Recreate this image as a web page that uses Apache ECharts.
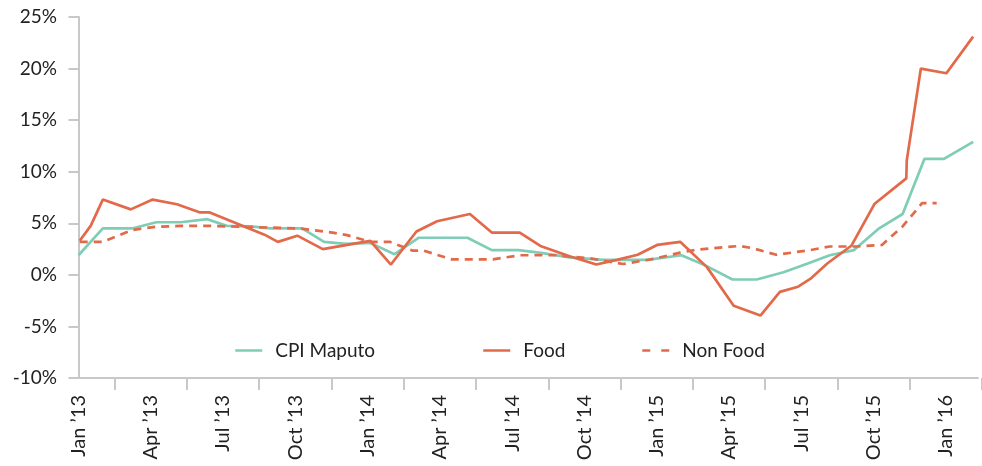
<!DOCTYPE html>
<html>
<head>
<meta charset="utf-8">
<script src="https://cdn.jsdelivr.net/npm/echarts@6/dist/echarts.min.js"></script>
<style>
  html, body { margin: 0; padding: 0; background: #fff; }
  #chart { width: 982px; height: 466px; }
</style>
</head>
<body>
<div id="chart"></div>
<script>
// x positions are months counted from Jan '13 (0 = Jan '13)
const tickLabels = ['Jan \u201913', 'Apr \u201913', 'Jul \u201913', 'Oct \u201913', 'Jan \u201914', 'Apr \u201914',
  'Jul \u201914', 'Oct \u201914', 'Jan \u201915', 'Apr \u201915', 'Jul \u201915', 'Oct \u201915', 'Jan \u201916']

const cpiMonth = [0, 1, 2.2, 3.2, 4.2, 5.3, 6.1, 7.1, 7.9, 9.2, 10.1, 11.0, 12.0, 13.0, 14.0, 16.0, 17.0, 18.1, 19.1,
  20.2, 21.6, 23.4, 24.8, 25.8, 26.9, 27.9, 29.0, 30.0, 30.9, 31.9, 32.9, 33.9, 34.8, 35.6, 36.8]
const cpiValue = [1.9, 4.5, 4.5, 5.1, 5.1, 5.4, 4.75, 4.7, 4.5, 4.5, 3.2, 3.0, 3.1, 2.0, 3.6, 3.6, 2.4, 2.4, 2.1,
  1.7, 1.45, 1.45, 1.9, 0.9, -0.45, -0.45, 0.25, 1.1, 1.9, 2.4, 4.45, 5.9, 11.25, 11.25, 12.9]

const foodMonth = [0.05, 0.5, 1.0, 2.15, 3.05, 4.05, 5.0, 5.4, 7.65, 8.2, 9.0, 10.05, 12.0, 12.85, 13.9, 14.75, 16.1,
  17.0, 18.15, 19.0, 20.2, 21.3, 22.15, 23.0, 23.8, 24.75, 25.85, 26.95, 28.05, 28.85, 29.6, 30.1, 30.8, 31.8,
  32.75, 34.05, 34.07, 34.65, 35.7, 36.8]
const foodValue = [3.3, 4.75, 7.3, 6.35, 7.3, 6.85, 6.05, 6.05, 3.9, 3.2, 3.8, 2.5, 3.3, 1.0, 4.2, 5.2, 5.9,
  4.1, 4.1, 2.8, 1.8, 1.0, 1.45, 1.95, 2.9, 3.2, 0.75, -3.0, -3.95, -1.65, -1.15, -0.4, 1.1, 2.85,
  6.9, 9.35, 11.1, 20.0, 19.55, 23.1]

const nonFoodMonth = [0.05, 1.0, 2.2, 3.15, 4.2, 5.4, 9.1, 10.45, 11.05, 12.0, 12.8, 13.75, 14.2, 15.35, 17.05,
  18.15, 19.65, 21.05, 22.4, 23.65, 24.75, 25.45, 27.2, 27.7, 28.7, 30.1, 30.9, 32.0, 33.05, 33.9, 34.7, 35.3]
const nonFoodValue = [3.2, 3.2, 4.35, 4.65, 4.75, 4.75, 4.5, 4.1, 3.85, 3.2, 3.2, 2.35, 2.35, 1.5, 1.5,
  1.9, 1.9, 1.6, 1.05, 1.55, 2.15, 2.45, 2.8, 2.6, 1.95, 2.4, 2.75, 2.75, 2.9, 4.7, 6.95, 6.95]

const teal = '#7fcdb6'
const red = '#e2694a'
const axisGray = '#c8c8c8'
const font = 'Lato'

// one category per month, used only to place the x labels and ticks
const monthCats = []
for (let i = 0; i < 38; i++) monthCats.push(String(i))

const pairs = (xs, ys) => xs.map((x, i) => [x, ys[i]])

function legendAt(name, left, dash) {
  return {
    data: [name], left: left, top: 336,
    itemWidth: 27, itemHeight: 14,
    itemStyle: {opacity: 0},
    lineStyle: dash ? {type: [8, 11], width: 2.5} : {width: 2.5},
    textStyle: {fontFamily: font, fontSize: 19, color: '#222', padding: [0, 0, 0, 8]}
  }
}

const chart = echarts.init(document.getElementById('chart'))
chart.setOption({
  animation: false,
  textStyle: {fontFamily: font},
  grid: [
    {left: 70, right: 4, top: 17, bottom: 88},
    {left: 66.35, right: -8.15, top: 17, bottom: 88}
  ],
  legend: [
    legendAt('CPI Maputo', 229, false),
    legendAt('Food', 477, false),
    legendAt('Non Food', 636, true)
  ],
  xAxis: [
    {
      type: 'value', gridIndex: 0, min: -0.35, max: 37,
      axisLine: {show: true, onZero: false, lineStyle: {color: axisGray, width: 2}},
      axisTick: {show: false}, axisLabel: {show: false}, splitLine: {show: false}
    },
    {
      type: 'category', gridIndex: 1, data: monthCats, boundaryGap: true,
      axisLine: {show: false, onZero: false},
      axisTick: {show: true, length: 12, lineStyle: {color: axisGray, width: 2},
        interval: (i) => i % 3 === 2},
      axisLabel: {
        interval: (i) => i % 3 === 0, rotate: 90, margin: 17,
        fontFamily: font, fontSize: 20, color: '#222',
        formatter: (v, i) => tickLabels[i / 3] || ''
      },
      splitLine: {show: false}
    }
  ],
  yAxis: [
    {
      type: 'value', gridIndex: 0, min: -10, max: 25, interval: 5,
      axisLine: {show: true, lineStyle: {color: axisGray, width: 2}},
      axisTick: {show: true, length: 10, lineStyle: {color: axisGray, width: 2}},
      axisLabel: {formatter: '{value}%', margin: 13, fontFamily: font, fontSize: 19, color: '#222'},
      splitLine: {show: false}
    },
    {
      type: 'value', gridIndex: 1, min: -10, max: 25, show: false
    }
  ],
  series: [
    {
      name: 'CPI Maputo', type: 'line', xAxisIndex: 0, yAxisIndex: 0, symbol: 'none',
      data: pairs(cpiMonth, cpiValue),
      itemStyle: {color: teal}, lineStyle: {color: teal, width: 2.7}
    },
    {
      name: 'Food', type: 'line', xAxisIndex: 0, yAxisIndex: 0, symbol: 'none',
      data: pairs(foodMonth, foodValue),
      itemStyle: {color: red}, lineStyle: {color: red, width: 2.7}
    },
    {
      name: 'Non Food', type: 'line', xAxisIndex: 0, yAxisIndex: 0, symbol: 'none',
      data: pairs(nonFoodMonth, nonFoodValue),
      itemStyle: {color: red}, lineStyle: {color: red, width: 2.7, type: [8, 6]}
    }
  ]
})
</script>
</body>
</html>
